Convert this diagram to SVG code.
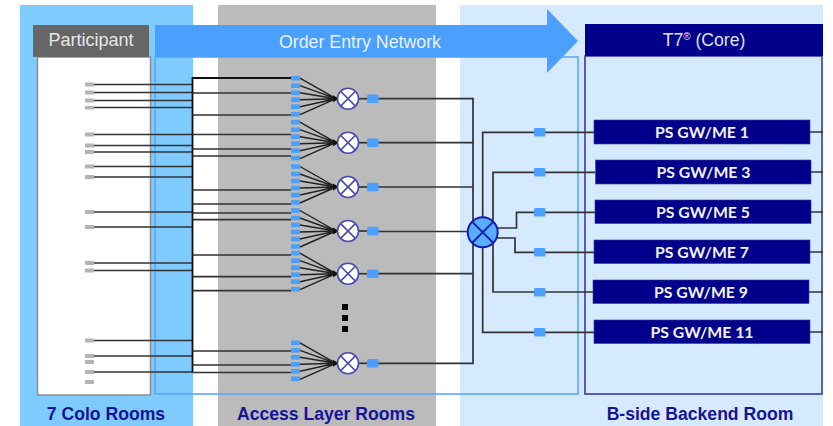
<svg xmlns="http://www.w3.org/2000/svg" width="833" height="426" viewBox="0 0 833 426">
<style>
.ln{fill:none;stroke:#333;stroke-width:1.7}
.bus{fill:none;stroke:#111;stroke-width:1.8}
.fan{fill:none;stroke:#222;stroke-width:1.4}
.gp{fill:#b4b4b4}
.bp{fill:#4a9fff}
.sw{fill:#4a9fff}
.mux{fill:#fff;stroke:#4a4ab4;stroke-width:1.6}
.x{fill:none;stroke:#4a4ab4;stroke-width:1.6}
.ps{fill:#00008b;stroke:#3a3aa8;stroke-width:.6}
.pst{font:bold 15.8px Lato,"Open Sans",sans-serif;fill:#f2f2f8;text-anchor:middle}
.lab{font:bold 17.6px "Liberation Sans",Arial,sans-serif;fill:#14149a;text-anchor:middle}
.hd{font:18px "Liberation Sans",Arial,sans-serif;text-anchor:middle}
</style>
<defs>
<g id="fanports">
<path class="fan" d="M300 -20.500L336 0M300 -13L336 0M300 -6L336 0M300 1L336 0M300 8L336 0M300 16L336 0"/>
<rect class="bp" x="291" y="-22.800" width="9" height="4.600"/>
<rect class="bp" x="291" y="-15.300" width="9" height="4.600"/>
<rect class="bp" x="291" y="-8.300" width="9" height="4.600"/>
<rect class="bp" x="291" y="-1.300" width="9" height="4.600"/>
<rect class="bp" x="291" y="5.700" width="9" height="4.600"/>
<rect class="bp" x="291" y="13.200" width="9" height="4.600"/>
<path d="M333 -3.500L339 0L333 3.500Z" fill="#111"/>
</g>
<g id="muxsym">
<line class="ln" x1="358" y1="0" x2="368" y2="0"/>
<circle class="mux" cx="348" cy="0" r="10.500"/>
<path class="x" d="M340.600 -7.400L355.400 7.400M340.600 7.400L355.400 -7.400"/>
<rect class="sw" x="367" y="-4.200" width="11.500" height="8.400" rx="1.500"/>
</g>
</defs>

<g id="rooms">
<rect x="20" y="5" width="173" height="421" fill="#7fcbff"/>
<rect x="218" y="5" width="218" height="421" fill="#bbb"/>
<rect x="460" y="5" width="363" height="421" fill="#d6eaff"/>
</g>

<g id="network-frame">
<rect x="155" y="57" width="423" height="337" fill="none" stroke="#5aa8fa" stroke-width="1.600"/>
</g>

<g id="participant">
<rect x="37.500" y="57" width="113" height="338" fill="#fff" stroke="#8e8e8e" stroke-width="1.500"/>
<rect x="33" y="25" width="116" height="32" fill="#666"/>
<text class="hd" x="91" y="46" fill="#e8e8e8">Participant</text>
<rect class="gp" x="85" y="82.500" width="9" height="4"/>
<rect class="gp" x="85" y="90.500" width="9" height="4"/>
<rect class="gp" x="85" y="98.500" width="9" height="4"/>
<rect class="gp" x="85" y="106" width="9" height="3.500"/>
<rect class="gp" x="85" y="132.500" width="9" height="4"/>
<rect class="gp" x="85" y="143.500" width="9" height="4"/>
<rect class="gp" x="85" y="150" width="9" height="4"/>
<rect class="gp" x="85" y="164.500" width="9" height="4"/>
<rect class="gp" x="85" y="175" width="9" height="4"/>
<rect class="gp" x="85" y="210" width="9" height="4"/>
<rect class="gp" x="85" y="225" width="9" height="4"/>
<rect class="gp" x="85" y="261" width="9" height="4"/>
<rect class="gp" x="85" y="268.500" width="9" height="4"/>
<rect class="gp" x="85" y="338.500" width="9" height="4"/>
<rect class="gp" x="85" y="354" width="9" height="4"/>
<rect class="gp" x="85" y="360" width="9" height="4"/>
<rect class="gp" x="85" y="370" width="9" height="4"/>
<rect class="gp" x="85" y="380" width="9" height="4"/>
</g>

<g id="order-entry-network">
<path d="M155 25H547V9L578 41L547 73V57H155Z" fill="#4a9fff"/>
<text x="360" y="48" font-family="Liberation Sans, Arial, sans-serif" font-size="17.800" fill="#e8f2ff" text-anchor="middle">Order Entry Network</text>
</g>

<g id="core">
<rect x="585" y="56" width="237" height="338" fill="none" stroke="#3a3aa8" stroke-width="1.600"/>
<rect x="585" y="24" width="238" height="32" fill="#00008b"/>
<text x="704" y="46" font-family="Liberation Sans, Arial, sans-serif" font-size="17.600" fill="#dfe3f5" text-anchor="middle">T7<tspan font-size="10" dy="-6">®</tspan><tspan dy="6"> (Core)</tspan></text>
</g>

<g id="connectors">
<path class="ln" d="M94 84.500H192.500M94 92.500H192.500M94 100.500H192.500M94 107.500H192.500M94 134.500H192.500M94 145.500H192.500M94 152H192.500M94 166.500H192.500M94 177H192.500M94 212H192.500M94 227H192.500M94 263H192.500M94 270.500H192.500M94 340.500H192.500M94 356H192.500M94 372H192.500"/>
<path class="bus" d="M291 78H192.500V372.500"/>
<path class="ln" d="M192.500 93H291M192.500 115H291M192.500 134.500H291M192.500 149H291M192.500 156H291M192.500 190H291M192.500 204H291M192.500 213H291M192.500 219.700H291M192.500 255H291M192.500 276.700H291M192.500 290.700H291M192.500 351H291M192.500 365H291M192.500 372.500H291"/>
<path class="ln" d="M378 98.700H473V363.300H378M378 142.700H473M378 187H473M378 231.500H468M378 273.700H473"/>
<path class="ln" d="M482.700 232V132.300H594M493 232V172.300H595M497 228H516.500V212.300H595M497 238H515V252.300H594M493 232V292H593M482.700 232V332.300H594"/>
<path class="ln" d="M810 132H823M811 172H823M811 212H823M810 252H823M809 292H823M810 332H823"/>
</g>

<g id="mux-1"><use href="#fanports" y="98.700"/><use href="#muxsym" y="98.700"/></g>
<g id="mux-2"><use href="#fanports" y="142.700"/><use href="#muxsym" y="142.700"/></g>
<g id="mux-3"><use href="#fanports" y="187"/><use href="#muxsym" y="187"/></g>
<g id="mux-4"><use href="#fanports" y="231"/><use href="#muxsym" y="231"/></g>
<g id="mux-5"><use href="#fanports" y="273.700"/><use href="#muxsym" y="273.700"/></g>
<g id="mux-6"><use href="#fanports" y="363.300"/><use href="#muxsym" y="363.300"/></g>

<g id="ellipsis" fill="#000">
<rect x="342" y="304" width="6" height="6"/>
<rect x="342" y="315" width="6" height="6"/>
<rect x="342" y="326" width="6" height="6"/>
</g>

<g id="central-switch">
<circle cx="482.700" cy="232.300" r="15" fill="#58adff" stroke="#1a1ab0" stroke-width="2"/>
<path d="M472 221.600L493.400 243M472 243L493.400 221.600" fill="none" stroke="#1a1ab0" stroke-width="1.800"/>
</g>

<g id="links">
<rect class="sw" x="534" y="128" width="11.500" height="8.400" rx="1.500"/>
<rect class="sw" x="534" y="168" width="11.500" height="8.400" rx="1.500"/>
<rect class="sw" x="534" y="208" width="11.500" height="8.400" rx="1.500"/>
<rect class="sw" x="534" y="248" width="11.500" height="8.400" rx="1.500"/>
<rect class="sw" x="534" y="288" width="11.500" height="8.400" rx="1.500"/>
<rect class="sw" x="534" y="328" width="11.500" height="8.400" rx="1.500"/>
</g>

<g id="ps-1"><rect class="ps" x="594" y="120" width="216" height="24"/><text class="pst" x="702" y="138">PS GW/ME 1</text></g>
<g id="ps-3"><rect class="ps" x="595.500" y="160" width="215.500" height="24"/><text class="pst" x="703.500" y="178">PS GW/ME 3</text></g>
<g id="ps-5"><rect class="ps" x="595" y="200" width="216" height="23.500"/><text class="pst" x="703" y="218">PS GW/ME 5</text></g>
<g id="ps-7"><rect class="ps" x="594" y="240" width="216" height="23.500"/><text class="pst" x="702" y="258">PS GW/ME 7</text></g>
<g id="ps-9"><rect class="ps" x="593" y="280" width="216" height="23.500"/><text class="pst" x="701" y="298">PS GW/ME 9</text></g>
<g id="ps-11"><rect class="ps" x="594" y="320" width="216" height="23.500"/><text class="pst" x="702" y="338">PS GW/ME 11</text></g>

<g id="room-labels">
<text class="lab" x="106" y="420">7 Colo Rooms</text>
<text class="lab" x="326" y="420">Access Layer Rooms</text>
<text class="lab" x="700" y="419.500">B-side Backend Room</text>
</g>
</svg>
